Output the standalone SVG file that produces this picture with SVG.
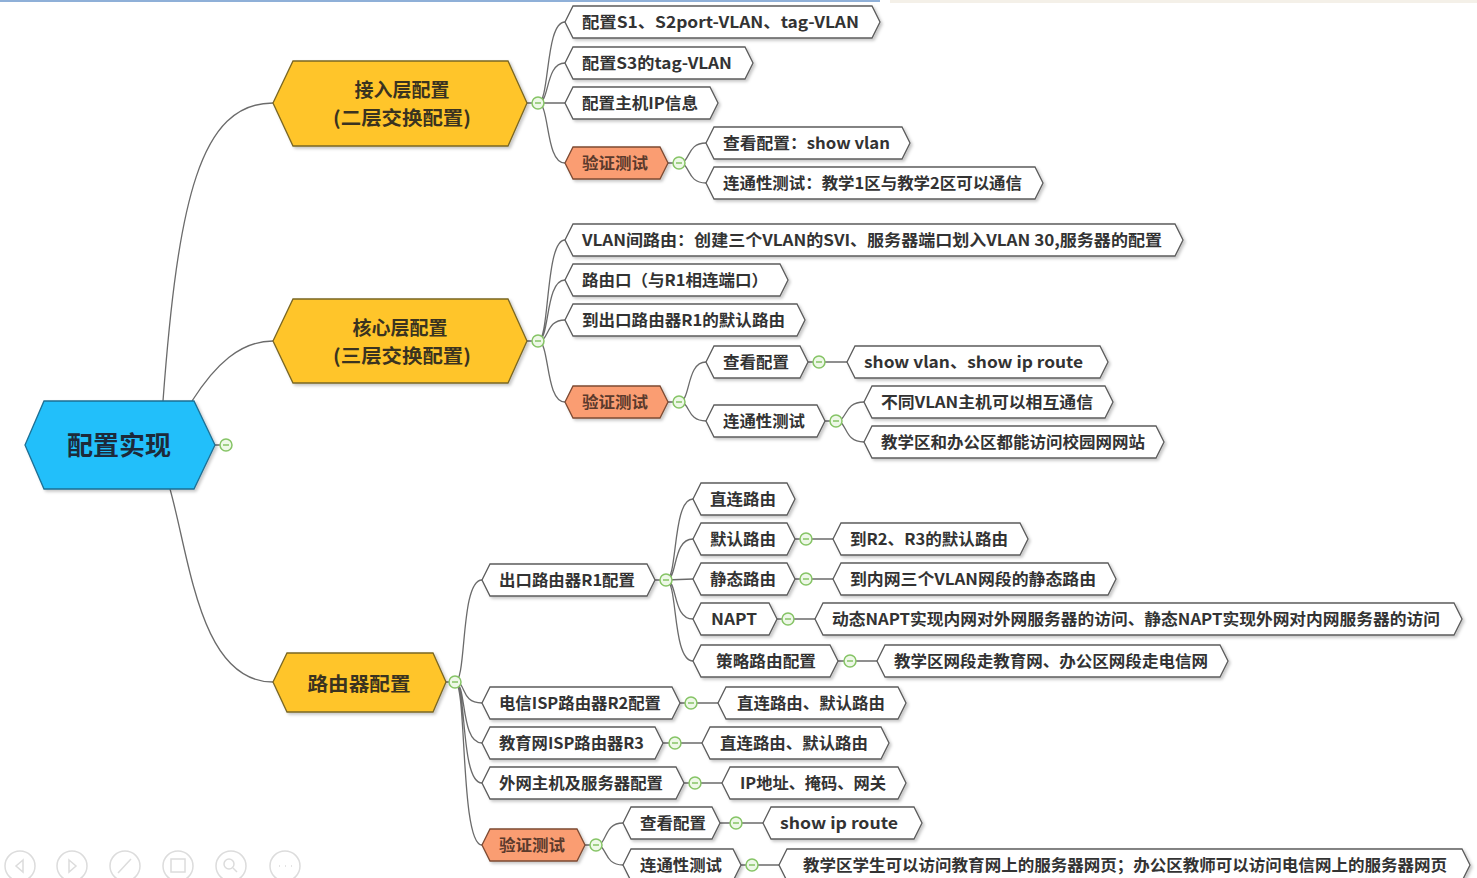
<svg xmlns="http://www.w3.org/2000/svg" width="1477" height="878" viewBox="0 0 1477 878">
<defs>
<filter id="sh" x="-5%" y="-20%" width="110%" height="160%"><feDropShadow dx="2" dy="2" stdDeviation="1.5" flood-color="#000" flood-opacity="0.22"/></filter>
<style>
.n{fill:#fff;stroke:#5c5c5c;stroke-width:1.3;filter:url(#sh)}
.o{fill:#FA9D72;stroke:#7d4a33;stroke-width:1.3;filter:url(#sh)}
.y{fill:#FFC52B;stroke:#7a6724;stroke-width:1.3;filter:url(#sh)}
.r{fill:#22BFFA;stroke:#1d6f94;stroke-width:1.3;filter:url(#sh)}
.t{font-family:"Noto Sans CJK SC","Noto Sans",sans-serif;font-weight:bold;font-size:16px;fill:#333}
.to{font-family:"Noto Sans CJK SC","Noto Sans",sans-serif;font-weight:bold;font-size:16px;fill:#5b3a2c}
.ty{font-family:"Noto Sans CJK SC","Noto Sans",sans-serif;font-weight:bold;font-size:19px;fill:#3a3320;text-anchor:middle}
.tr{font-family:"Noto Sans CJK SC","Noto Sans",sans-serif;font-weight:bold;font-size:26px;fill:#1d2a3a;text-anchor:middle}
.l{fill:none;stroke:#6b6b6b;stroke-width:1.3}
.c{fill:#eef8e8;stroke:#86c466;stroke-width:1.5}
.m{stroke:#86c466;stroke-width:1.5}
.tb{fill:none;stroke:#dcdcdc;stroke-width:1.5}
</style>
</defs>
<rect x="0" y="0" width="1477" height="878" fill="#fff"/>
<rect x="0" y="0" width="880" height="2" fill="#8fb0d8"/>
<rect x="890" y="0" width="587" height="3" fill="#f4f0e8"/>

<g id="connectors">
<path class="l" d="M163,401 C178,200 200,103 273,103"/>
<path class="l" d="M192,401 C215,365 240,341 273,341"/>
<path class="l" d="M170,489 C190,560 200,682 273,682"/>
<path class="l" d="M527,103 L538,103 M527,341 L538,341 M446,682 L455,682 M215,445 L226,445"/>
<path class="l" d="M538,103 C550,103 545,22 565,22 M538,103 C550,103 545,63 565,63 M538,103 L565,103 M538,103 C550,103 545,163 565,163"/>
<path class="l" d="M668,163 L679,163 M679,163 C691,163 686,143 706,143 M679,163 C691,163 686,183 706,183"/>
<path class="l" d="M538,341 C550,341 545,240 565,240 M538,341 C550,341 545,280 565,280 M538,341 C550,341 545,320 565,320 M538,341 C550,341 545,402 565,402"/>
<path class="l" d="M668,402 L679,402 M679,402 C691,402 686,362 706,362 M679,402 C691,402 686,421 706,421"/>
<path class="l" d="M808,362 L847,362 M825,421 L836,421 M836,421 C848,421 843,402 864,402 M836,421 C848,421 843,442 864,442"/>
<path class="l" d="M455,682 C467,682 460,580 482,580 M455,682 C467,682 460,703 482,703 M455,682 C467,682 460,743 482,743 M455,682 C467,682 460,783 482,783 M455,682 C467,682 460,845 482,845"/>
<path class="l" d="M655,580 L666,580 M666,580 C678,580 672,499 693,499 M666,580 C678,580 672,539 693,539 M666,580 L693,579 M666,580 C678,580 672,619 693,619 M666,580 C678,580 672,661 693,661"/>
<path class="l" d="M795,539 L833,539 M795,579 L833,579 M777,619 L815,619 M838,661 L877,661 M680,703 L718,703 M663,743 L702,743 M684,783 L722,783 M720,823 L763,823 M741,865 L779,865"/>
<path class="l" d="M585,845 L596,845 M596,845 C608,845 603,823 623,823 M596,845 C608,845 603,865 623,865"/>
</g>

<g id="root"><polygon class="r" points="25,445 44,401 194,401 215,445 194,489 44,489"/><text class="tr" x="119" y="455">配置实现</text></g>

<g id="access"><polygon class="y" points="273,103 293,61 508,61 527,103 508,146 293,146"/><text class="ty" x="402" y="97">接入层配置</text><text class="ty" x="402" y="125" textLength="138" lengthAdjust="spacingAndGlyphs">(二层交换配置)</text></g>
<g id="core"><polygon class="y" points="273,341 293,299 508,299 527,341 508,383 293,383"/><text class="ty" x="400" y="335">核心层配置</text><text class="ty" x="402" y="363" textLength="138" lengthAdjust="spacingAndGlyphs">(三层交换配置)</text></g>
<g id="router"><polygon class="y" points="273,682 287,653 433,653 446,682 433,712 287,712"/><text class="ty" x="359" y="691" textLength="103" lengthAdjust="spacingAndGlyphs">路由器配置</text></g>

<g id="a1"><polygon class="n" points="565,22 573,6 872,6 880,22 872,38 573,38"/><text class="t" x="582" y="28" textLength="277" lengthAdjust="spacingAndGlyphs">配置S1、S2port-VLAN、tag-VLAN</text></g>
<g id="a2"><polygon class="n" points="565,63 573,47 745,47 753,63 745,79 573,79"/><text class="t" x="582" y="69" textLength="150" lengthAdjust="spacingAndGlyphs">配置S3的tag-VLAN</text></g>
<g id="a3"><polygon class="n" points="565,103 573,87 710,87 718,103 710,119 573,119"/><text class="t" x="582" y="109" textLength="116" lengthAdjust="spacingAndGlyphs">配置主机IP信息</text></g>
<g id="a4"><polygon class="o" points="565,163 573,147 660,147 668,163 660,179 573,179"/><text class="to" x="582" y="169" textLength="66" lengthAdjust="spacingAndGlyphs">验证测试</text></g>
<g id="a4a"><polygon class="n" points="706,143 714,127 902,127 910,143 902,159 714,159"/><text class="t" x="723" y="149" textLength="167" lengthAdjust="spacingAndGlyphs">查看配置：show vlan</text></g>
<g id="a4b"><polygon class="n" points="706,183 714,167 1035,167 1043,183 1035,199 714,199"/><text class="t" x="723" y="189" textLength="299" lengthAdjust="spacingAndGlyphs">连通性测试：教学1区与教学2区可以通信</text></g>

<g id="b1"><polygon class="n" points="565,240 573,224 1175,224 1183,240 1175,256 573,256"/><text class="t" x="582" y="246" textLength="580" lengthAdjust="spacingAndGlyphs">VLAN间路由：创建三个VLAN的SVI、服务器端口划入VLAN 30,服务器的配置</text></g>
<g id="b2"><polygon class="n" points="565,280 573,264 780,264 788,280 780,296 573,296"/><text class="t" x="582" y="286" textLength="186" lengthAdjust="spacingAndGlyphs">路由口（与R1相连端口）</text></g>
<g id="b3"><polygon class="n" points="565,320 573,304 797,304 805,320 797,336 573,336"/><text class="t" x="582" y="326" textLength="203" lengthAdjust="spacingAndGlyphs">到出口路由器R1的默认路由</text></g>
<g id="b4"><polygon class="o" points="565,402 573,386 660,386 668,402 660,418 573,418"/><text class="to" x="582" y="408" textLength="66" lengthAdjust="spacingAndGlyphs">验证测试</text></g>
<g id="b4a"><polygon class="n" points="706,362 714,346 800,346 808,362 800,378 714,378"/><text class="t" x="723" y="368" textLength="66" lengthAdjust="spacingAndGlyphs">查看配置</text></g>
<g id="b4a1"><polygon class="n" points="847,362 855,346 1100,346 1108,362 1100,378 855,378"/><text class="t" x="864" y="368" textLength="219" lengthAdjust="spacingAndGlyphs">show vlan、show ip route</text></g>
<g id="b4b"><polygon class="n" points="706,421 714,405 817,405 825,421 817,437 714,437"/><text class="t" x="723" y="427" textLength="82" lengthAdjust="spacingAndGlyphs">连通性测试</text></g>
<g id="b4b1"><polygon class="n" points="864,402 872,386 1105,386 1113,402 1105,418 872,418"/><text class="t" x="881" y="408" textLength="212" lengthAdjust="spacingAndGlyphs">不同VLAN主机可以相互通信</text></g>
<g id="b4b2"><polygon class="n" points="864,442 872,426 1156,426 1164,442 1156,458 872,458"/><text class="t" x="881" y="448" textLength="264" lengthAdjust="spacingAndGlyphs">教学区和办公区都能访问校园网网站</text></g>

<g id="c1"><polygon class="n" points="482,580 490,564 647,564 655,580 647,596 490,596"/><text class="t" x="499" y="586" textLength="136" lengthAdjust="spacingAndGlyphs">出口路由器R1配置</text></g>
<g id="c1a"><polygon class="n" points="693,499 701,483 787,483 795,499 787,515 701,515"/><text class="t" x="710" y="505" textLength="66" lengthAdjust="spacingAndGlyphs">直连路由</text></g>
<g id="c1b"><polygon class="n" points="693,539 701,523 787,523 795,539 787,555 701,555"/><text class="t" x="710" y="545" textLength="66" lengthAdjust="spacingAndGlyphs">默认路由</text></g>
<g id="c1b1"><polygon class="n" points="833,539 841,523 1020,523 1028,539 1020,555 841,555"/><text class="t" x="850" y="545" textLength="158" lengthAdjust="spacingAndGlyphs">到R2、R3的默认路由</text></g>
<g id="c1c"><polygon class="n" points="693,579 701,563 787,563 795,579 787,595 701,595"/><text class="t" x="710" y="585" textLength="66" lengthAdjust="spacingAndGlyphs">静态路由</text></g>
<g id="c1c1"><polygon class="n" points="833,579 841,563 1108,563 1116,579 1108,595 841,595"/><text class="t" x="850" y="585" textLength="246" lengthAdjust="spacingAndGlyphs">到内网三个VLAN网段的静态路由</text></g>
<g id="c1d"><polygon class="n" points="693,619 701,603 769,603 777,619 769,635 701,635"/><text class="t" x="711" y="625" textLength="46" lengthAdjust="spacingAndGlyphs">NAPT</text></g>
<g id="c1d1"><polygon class="n" points="815,619 823,603 1454,603 1462,619 1454,635 823,635"/><text class="t" x="832" y="625" textLength="608" lengthAdjust="spacingAndGlyphs">动态NAPT实现内网对外网服务器的访问、静态NAPT实现外网对内网服务器的访问</text></g>
<g id="c1e"><polygon class="n" points="693,661 701,645 830,645 838,661 830,677 701,677"/><text class="t" x="716" y="667" textLength="100" lengthAdjust="spacingAndGlyphs">策略路由配置</text></g>
<g id="c1e1"><polygon class="n" points="877,661 885,645 1220,645 1228,661 1220,677 885,677"/><text class="t" x="894" y="667" textLength="314" lengthAdjust="spacingAndGlyphs">教学区网段走教育网、办公区网段走电信网</text></g>
<g id="c2"><polygon class="n" points="482,703 490,687 672,687 680,703 672,719 490,719"/><text class="t" x="499" y="709" textLength="162" lengthAdjust="spacingAndGlyphs">电信ISP路由器R2配置</text></g>
<g id="c2a"><polygon class="n" points="718,703 726,687 898,687 906,703 898,719 726,719"/><text class="t" x="737" y="709" textLength="148" lengthAdjust="spacingAndGlyphs">直连路由、默认路由</text></g>
<g id="c3"><polygon class="n" points="482,743 490,727 655,727 663,743 655,759 490,759"/><text class="t" x="499" y="749" textLength="145" lengthAdjust="spacingAndGlyphs">教育网ISP路由器R3</text></g>
<g id="c3a"><polygon class="n" points="702,743 710,727 881,727 889,743 881,759 710,759"/><text class="t" x="720" y="749" textLength="148" lengthAdjust="spacingAndGlyphs">直连路由、默认路由</text></g>
<g id="c4"><polygon class="n" points="482,783 490,767 676,767 684,783 676,799 490,799"/><text class="t" x="499" y="789" textLength="164" lengthAdjust="spacingAndGlyphs">外网主机及服务器配置</text></g>
<g id="c4a"><polygon class="n" points="722,783 730,767 898,767 906,783 898,799 730,799"/><text class="t" x="740" y="789" textLength="146" lengthAdjust="spacingAndGlyphs">IP地址、掩码、网关</text></g>
<g id="c5"><polygon class="o" points="482,845 490,829 577,829 585,845 577,861 490,861"/><text class="to" x="499" y="851" textLength="66" lengthAdjust="spacingAndGlyphs">验证测试</text></g>
<g id="c5a"><polygon class="n" points="623,823 631,807 712,807 720,823 712,839 631,839"/><text class="t" x="640" y="829" textLength="66" lengthAdjust="spacingAndGlyphs">查看配置</text></g>
<g id="c5a1"><polygon class="n" points="763,823 771,807 914,807 922,823 914,839 771,839"/><text class="t" x="780" y="829" textLength="118" lengthAdjust="spacingAndGlyphs">show ip route</text></g>
<g id="c5b"><polygon class="n" points="623,865 631,849 733,849 741,865 733,881 631,881"/><text class="t" x="640" y="871" textLength="82" lengthAdjust="spacingAndGlyphs">连通性测试</text></g>
<g id="c5b1"><polygon class="n" points="779,865 787,849 1462,849 1470,865 1462,881 787,881"/><text class="t" x="803" y="871" textLength="644" lengthAdjust="spacingAndGlyphs">教学区学生可以访问教育网上的服务器网页；办公区教师可以访问电信网上的服务器网页</text></g>

<g id="toggles">
<circle class="c" cx="226" cy="445" r="6"/><circle class="c" cx="538" cy="103" r="6"/><circle class="c" cx="679" cy="163" r="6"/>
<circle class="c" cx="538" cy="341" r="6"/><circle class="c" cx="679" cy="402" r="6"/><circle class="c" cx="819" cy="362" r="6"/><circle class="c" cx="836" cy="421" r="6"/>
<circle class="c" cx="455" cy="682" r="6"/><circle class="c" cx="666" cy="580" r="6"/><circle class="c" cx="806" cy="539" r="6"/><circle class="c" cx="806" cy="579" r="6"/>
<circle class="c" cx="788" cy="619" r="6"/><circle class="c" cx="850" cy="661" r="6"/><circle class="c" cx="691" cy="703" r="6"/><circle class="c" cx="675" cy="743" r="6"/>
<circle class="c" cx="695" cy="783" r="6"/><circle class="c" cx="596" cy="845" r="6"/><circle class="c" cx="736" cy="823" r="6"/><circle class="c" cx="752" cy="865" r="6"/>
<path class="m" d="M223,445h6M535,103h6M676,163h6M535,341h6M676,402h6M816,362h6M833,421h6M452,682h6M663,580h6M803,539h6M803,579h6M785,619h6M847,661h6M688,703h6M672,743h6M692,783h6M593,845h6M733,823h6M749,865h6"/>
</g>

<g id="toolbar">
<circle class="tb" cx="20" cy="866" r="15"/><path class="tb" d="M23,860 L16,866 L23,872 Z"/>
<circle class="tb" cx="72" cy="866" r="15"/><path class="tb" d="M69,860 L76,866 L69,872 Z"/>
<circle class="tb" cx="125" cy="866" r="15"/><path class="tb" d="M118,873 L131,859"/>
<circle class="tb" cx="178" cy="866" r="15"/><rect class="tb" x="171" y="859" width="14" height="13"/>
<circle class="tb" cx="231" cy="866" r="15"/><circle class="tb" cx="229" cy="864" r="5"/><path class="tb" d="M233,868 L237,872"/>
<circle class="tb" cx="285" cy="866" r="15"/><path class="tb" d="M279,866h1M285,866h1M291,866h1"/>
</g>
</svg>
